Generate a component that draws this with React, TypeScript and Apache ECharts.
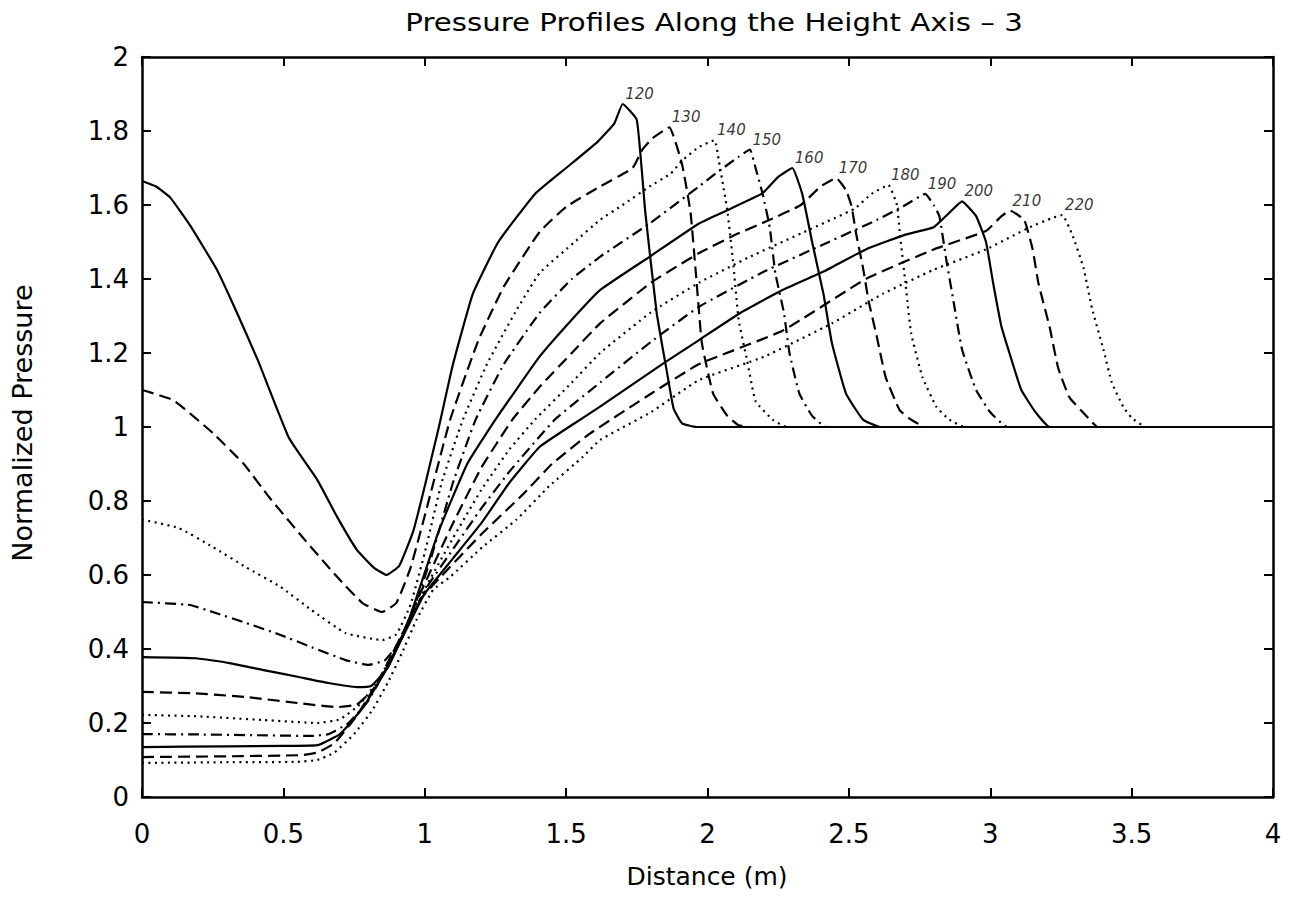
import React, { useEffect, useRef } from "react";
import * as echarts from "echarts";

// ---- Data ----
const curveNames = ["120", "130", "140", "150", "160", "170", "180", "190", "200", "210", "220"];
const curveStyles = ["solid", "dashed", "dotted", "dashdot", "solid", "dashed", "dotted", "dashdot", "solid", "dashed", "dotted"];

const xMin = 0;
const xMax = 4;
const xInterval = 0.5;
const yMin = 0;
const yMax = 2;
const yInterval = 0.2;

const c120 = [
  [0, 1.665], [0.05, 1.65], [0.1, 1.62], [0.17, 1.545], [0.265, 1.425], [0.335, 1.31], [0.41, 1.18],
  [0.52, 0.97], [0.62, 0.857], [0.69, 0.757], [0.76, 0.668], [0.82, 0.62], [0.865, 0.6], [0.91, 0.625],
  [0.96, 0.72], [1.0, 0.84], [1.05, 1.0], [1.1, 1.17], [1.17, 1.36], [1.26, 1.5], [1.39, 1.63], [1.5, 1.7],
  [1.61, 1.77], [1.67, 1.82], [1.7, 1.873], [1.75, 1.83], [1.78, 1.58], [1.82, 1.31], [1.855, 1.155],
  [1.88, 1.05], [1.91, 1.01], [1.96, 1.0], [4, 1.0],
];
const c130 = [
  [0, 1.1], [0.11, 1.073], [0.25, 0.984], [0.36, 0.9], [0.45, 0.81], [0.57, 0.7], [0.69, 0.595], [0.78, 0.524],
  [0.85, 0.5], [0.9, 0.525], [0.95, 0.62], [1.0, 0.76], [1.09, 1.02], [1.19, 1.235], [1.28, 1.38], [1.406, 1.527],
  [1.5, 1.595], [1.62, 1.65], [1.735, 1.7], [1.77, 1.75], [1.805, 1.78], [1.865, 1.81], [1.91, 1.71],
  [1.94, 1.58], [1.96, 1.405], [1.98, 1.227], [2.02, 1.09], [2.07, 1.03], [2.11, 1.005], [2.15, 1.0], [4, 1.0],
];
const c140 = [
  [0, 0.75], [0.13, 0.727], [0.25, 0.676], [0.37, 0.62], [0.49, 0.568], [0.6, 0.505], [0.72, 0.443], [0.85, 0.424],
  [0.9, 0.44], [0.95, 0.52], [1.0, 0.66], [1.06, 0.85], [1.135, 1.02], [1.22, 1.17], [1.32, 1.31], [1.406, 1.416],
  [1.53, 1.5], [1.62, 1.56], [1.7, 1.6], [1.795, 1.65], [1.87, 1.685], [1.91, 1.72], [1.97, 1.757], [2.025, 1.775],
  [2.04, 1.72], [2.07, 1.586], [2.09, 1.45], [2.11, 1.29], [2.14, 1.18], [2.17, 1.07], [2.23, 1.02], [2.28, 1.0], [4, 1.0],
];
const c150 = [
  [0, 0.527], [0.17, 0.519], [0.25, 0.5], [0.37, 0.47], [0.49, 0.438], [0.6, 0.405], [0.72, 0.37], [0.8, 0.357],
  [0.86, 0.37], [0.92, 0.43], [0.97, 0.53], [1.02, 0.64], [1.1, 0.85], [1.18, 1.02], [1.28, 1.17], [1.406, 1.308],
  [1.52, 1.4], [1.62, 1.46], [1.795, 1.55], [1.97, 1.65], [2.03, 1.686], [2.11, 1.73], [2.15, 1.75], [2.17, 1.7],
  [2.195, 1.63], [2.22, 1.54], [2.24, 1.415], [2.27, 1.31], [2.29, 1.2], [2.325, 1.09], [2.37, 1.03], [2.42, 1.0], [4, 1.0],
];
const c160 = [
  [0, 0.378], [0.19, 0.375], [0.31, 0.362], [0.43, 0.343], [0.55, 0.325], [0.66, 0.308], [0.76, 0.297], [0.81, 0.3],
  [0.87, 0.35], [0.93, 0.45], [0.98, 0.56], [1.05, 0.72], [1.15, 0.9], [1.25, 1.02], [1.406, 1.19], [1.52, 1.29],
  [1.62, 1.37], [1.795, 1.46], [1.97, 1.55], [2.07, 1.586], [2.195, 1.632], [2.25, 1.676], [2.3, 1.7], [2.335, 1.63],
  [2.37, 1.5], [2.41, 1.36], [2.44, 1.227], [2.49, 1.09], [2.55, 1.02], [2.61, 1.0], [4, 1.0],
];
const c170 = [
  [0, 0.284], [0.19, 0.28], [0.37, 0.27], [0.55, 0.254], [0.69, 0.243], [0.76, 0.25], [0.83, 0.3], [0.9, 0.4],
  [0.96, 0.51], [1.02, 0.61], [1.1, 0.74], [1.2, 0.89], [1.31, 1.02], [1.406, 1.108], [1.52, 1.2], [1.62, 1.28],
  [1.8, 1.39], [1.97, 1.47], [2.1, 1.52], [2.22, 1.56], [2.33, 1.6], [2.4, 1.65], [2.455, 1.673], [2.49, 1.64],
  [2.51, 1.595], [2.525, 1.525], [2.55, 1.43], [2.57, 1.34], [2.6, 1.24], [2.63, 1.135], [2.68, 1.045], [2.72, 1.02],
  [2.77, 1.0], [4, 1.0],
];
const c180 = [
  [0, 0.222], [0.2, 0.218], [0.43, 0.208], [0.62, 0.2], [0.7, 0.21], [0.77, 0.25], [0.84, 0.32], [0.9, 0.41],
  [0.96, 0.5], [1.02, 0.59], [1.1, 0.7], [1.2, 0.83], [1.3, 0.94], [1.39, 1.02], [1.52, 1.12], [1.62, 1.2],
  [1.8, 1.31], [1.97, 1.39], [2.15, 1.46], [2.35, 1.53], [2.52, 1.59], [2.58, 1.63], [2.64, 1.654], [2.67, 1.6],
  [2.68, 1.525], [2.7, 1.39], [2.72, 1.254], [2.76, 1.135], [2.81, 1.054], [2.855, 1.02], [2.91, 1.0], [4, 1.0],
];
const c190 = [
  [0, 0.17], [0.2, 0.169], [0.4, 0.167], [0.6, 0.165], [0.66, 0.17], [0.73, 0.2], [0.8, 0.26], [0.88, 0.37],
  [0.95, 0.48], [1.01, 0.57], [1.1, 0.67], [1.2, 0.78], [1.3, 0.88], [1.46, 1.02], [1.62, 1.12], [1.8, 1.23],
  [1.97, 1.325], [2.2, 1.42], [2.4, 1.49], [2.6, 1.56], [2.7, 1.6], [2.77, 1.63], [2.8, 1.6], [2.82, 1.57],
  [2.845, 1.45], [2.87, 1.34], [2.9, 1.21], [2.95, 1.1], [3.0, 1.04], [3.06, 1.0], [4, 1.0],
];
const c200 = [
  [0, 0.135], [0.3, 0.137], [0.5, 0.138], [0.62, 0.14], [0.7, 0.17], [0.78, 0.24], [0.86, 0.34], [0.94, 0.46],
  [1.0, 0.55], [1.1, 0.645], [1.2, 0.74], [1.3, 0.85], [1.406, 0.946], [1.55, 1.02], [1.62, 1.055], [1.84, 1.17],
  [1.97, 1.235], [2.12, 1.31], [2.265, 1.37], [2.41, 1.42], [2.56, 1.48], [2.7, 1.52], [2.8, 1.54], [2.85, 1.575],
  [2.9, 1.61], [2.95, 1.57], [2.985, 1.5], [3.01, 1.39], [3.04, 1.27], [3.08, 1.17], [3.11, 1.1], [3.16, 1.04],
  [3.21, 1.0], [4, 1.0],
];
const c210 = [
  [0, 0.108], [0.3, 0.11], [0.56, 0.113], [0.62, 0.12], [0.68, 0.145], [0.76, 0.22], [0.84, 0.32], [0.92, 0.44],
  [0.98, 0.53], [1.05, 0.59], [1.2, 0.71], [1.35, 0.82], [1.45, 0.9], [1.58, 0.98], [1.8, 1.09], [1.97, 1.17],
  [2.265, 1.26], [2.56, 1.4], [2.8, 1.48], [2.985, 1.53], [3.04, 1.57], [3.07, 1.585], [3.12, 1.56], [3.15, 1.48],
  [3.17, 1.39], [3.21, 1.27], [3.24, 1.16], [3.28, 1.08], [3.34, 1.03], [3.38, 1.0], [4, 1.0],
];
const c220 = [
  [0, 0.092], [0.3, 0.094], [0.55, 0.095], [0.62, 0.1], [0.68, 0.12], [0.75, 0.17], [0.815, 0.235], [0.87, 0.31],
  [0.92, 0.39], [0.97, 0.478], [1.03, 0.56], [1.09, 0.595], [1.205, 0.676], [1.325, 0.75], [1.44, 0.84], [1.56, 0.92],
  [1.62, 0.965], [1.8, 1.04], [1.97, 1.127], [2.2, 1.19], [2.44, 1.28], [2.62, 1.36], [2.8, 1.425], [2.985, 1.48],
  [3.14, 1.54], [3.22, 1.565], [3.255, 1.573], [3.29, 1.52], [3.33, 1.43], [3.36, 1.32], [3.4, 1.21], [3.43, 1.12],
  [3.47, 1.055], [3.5, 1.025], [3.55, 1.0], [4, 1.0],
];

const curves = [c120, c130, c140, c150, c160, c170, c180, c190, c200, c210, c220];

const titleText = "Pressure Profiles Along the Height Axis \u2013 3";
const xName = "Distance (m)";
const yName = "Normalized Pressure";

// ---- Styling helpers ----
const FONT = "DejaVu Sans";
const dashFor = (s: string): any => {
  if (s === "dashed") return [12, 6];
  if (s === "dotted") return [2, 4.5];
  if (s === "dashdot") return [11, 5, 2, 5];
  return "solid";
};

const fmt = (v: number) => String(Number(v.toFixed(2)));

export default function App() {
  const ref = useRef<HTMLDivElement>(null);

  useEffect(() => {
    if (!ref.current) return;
    const chart = echarts.init(ref.current, undefined, { renderer: "svg" });

    const lineSeries = curves.map((c, i) => ({
      name: curveNames[i],
      type: "line",
      data: c,
      xAxisIndex: 0,
      yAxisIndex: 0,
      showSymbol: false,
      symbol: "none",
      smooth: 0.12,
      lineStyle: { color: "#000", width: 2.2, type: dashFor(curveStyles[i]), join: "round" },
      silent: true,
      z: 3,
    }));

    // label anchor = highest point on the right-hand (shock) part of each curve
    const peaks = curves.map((c, i) => {
      const right = c.filter((p) => p[0] > 1.2);
      let best = right[0];
      right.forEach((p) => {
        if (p[1] > best[1]) best = p;
      });
      return { name: curveNames[i], value: best };
    });

    const labelSeries = {
      type: "scatter",
      data: peaks,
      symbolSize: 1,
      itemStyle: { color: "rgba(0,0,0,0)" },
      silent: true,
      label: {
        show: true,
        position: "right",
        distance: 2,
        offset: [0, -10],
        formatter: "{b}",
        fontFamily: FONT,
        fontStyle: "italic",
        fontSize: 15,
        color: "#000",
      },
      z: 4,
    };

    const axisCommon = {
      type: "value",
      splitLine: { show: false },
      axisLine: { show: true, onZero: false, lineStyle: { color: "#000", width: 2.5 } },
      axisTick: { show: true, inside: true, length: 9, lineStyle: { color: "#000", width: 2 } },
    };

    chart.setOption({
      animation: false,
      backgroundColor: "#fff",
      grid: { left: 142, right: 23, top: 57, bottom: 116, containLabel: false },
      xAxis: [
        {
          ...axisCommon,
          position: "bottom",
          min: xMin,
          max: xMax,
          interval: xInterval,
          axisLabel: { color: "#000", fontFamily: FONT, fontSize: 26, margin: 24, formatter: fmt, showMinLabel: true, showMaxLabel: true },
        },
        {
          ...axisCommon,
          position: "top",
          min: xMin,
          max: xMax,
          interval: xInterval,
          axisLabel: { show: false },
        },
      ],
      yAxis: [
        {
          ...axisCommon,
          position: "left",
          min: yMin,
          max: yMax,
          interval: yInterval,
          axisLabel: { color: "#000", fontFamily: FONT, fontSize: 26, margin: 13, formatter: fmt, showMinLabel: true, showMaxLabel: true },
        },
        {
          ...axisCommon,
          position: "right",
          min: yMin,
          max: yMax,
          interval: yInterval,
          axisLabel: { show: false },
        },
      ],
      graphic: [
        {
          type: "text",
          x: 714,
          y: 22,
          scaleX: 1.17,
          style: { text: titleText, font: `25px '${FONT}'`, fill: "#000", textAlign: "center", textVerticalAlign: "middle" },
        },
        {
          type: "text",
          x: 707,
          y: 876,
          style: { text: xName, font: `25px '${FONT}'`, fill: "#000", textAlign: "center", textVerticalAlign: "middle" },
        },
        {
          type: "text",
          x: 23,
          y: 423,
          rotation: Math.PI / 2,
          scaleX: 1.04,
          style: { text: yName, font: `26px '${FONT}'`, fill: "#000", textAlign: "center", textVerticalAlign: "middle" },
        },
      ],
      series: [...lineSeries, labelSeries],
    });

    return () => chart.dispose();
  }, []);

  return (
    <div
      ref={ref}
      style={{ position: "fixed", left: 0, top: 0, width: 1296, height: 913, background: "#fff" }}
    />
  );
}
